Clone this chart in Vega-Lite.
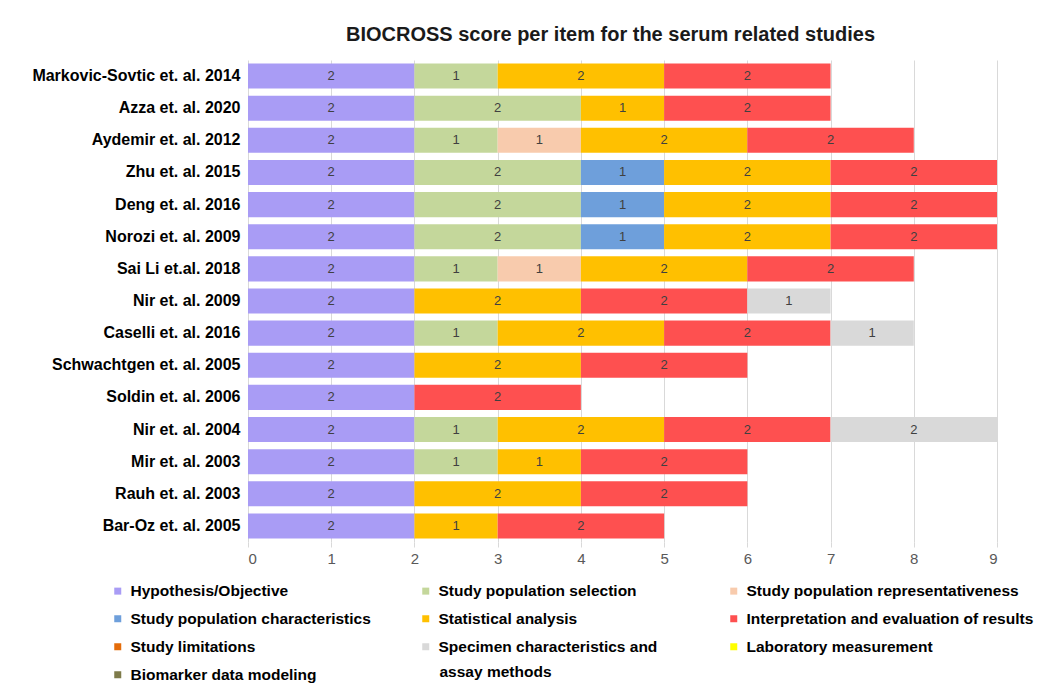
{
  "$schema": "https://vega.github.io/schema/vega-lite/v6.json",
  "width": 749,
  "height": 482,
  "autosize": "none",
  "padding": {"left": 248, "top": 60, "right": 54, "bottom": 146},
  "background": "white",
  "config": {"view": {"stroke": null}, "font": "Liberation Sans"},
  "title": {
    "text": "BIOCROSS score per item for the serum related studies",
    "fontSize": 20,
    "font": "Liberation Sans",
    "fontWeight": "bold",
    "color": "#1a1a1a",
    "offset": 15,
    "anchor": "middle",
    "dx": -12
  },
  "data": {
    "values": [
      {"study": "Markovic-Sovtic et. al. 2014", "item": "Hypothesis/Objective", "k": 1, "score": 2},
      {"study": "Markovic-Sovtic et. al. 2014", "item": "Study population selection", "k": 2, "score": 1},
      {"study": "Markovic-Sovtic et. al. 2014", "item": "Statistical analysis", "k": 5, "score": 2},
      {"study": "Markovic-Sovtic et. al. 2014", "item": "Interpretation and evaluation of results", "k": 6, "score": 2},
      {"study": "Azza et. al. 2020", "item": "Hypothesis/Objective", "k": 1, "score": 2},
      {"study": "Azza et. al. 2020", "item": "Study population selection", "k": 2, "score": 2},
      {"study": "Azza et. al. 2020", "item": "Statistical analysis", "k": 5, "score": 1},
      {"study": "Azza et. al. 2020", "item": "Interpretation and evaluation of results", "k": 6, "score": 2},
      {"study": "Aydemir et. al. 2012", "item": "Hypothesis/Objective", "k": 1, "score": 2},
      {"study": "Aydemir et. al. 2012", "item": "Study population selection", "k": 2, "score": 1},
      {"study": "Aydemir et. al. 2012", "item": "Study population representativeness", "k": 3, "score": 1},
      {"study": "Aydemir et. al. 2012", "item": "Statistical analysis", "k": 5, "score": 2},
      {"study": "Aydemir et. al. 2012", "item": "Interpretation and evaluation of results", "k": 6, "score": 2},
      {"study": "Zhu et. al. 2015", "item": "Hypothesis/Objective", "k": 1, "score": 2},
      {"study": "Zhu et. al. 2015", "item": "Study population selection", "k": 2, "score": 2},
      {"study": "Zhu et. al. 2015", "item": "Study population characteristics", "k": 4, "score": 1},
      {"study": "Zhu et. al. 2015", "item": "Statistical analysis", "k": 5, "score": 2},
      {"study": "Zhu et. al. 2015", "item": "Interpretation and evaluation of results", "k": 6, "score": 2},
      {"study": "Deng et. al. 2016", "item": "Hypothesis/Objective", "k": 1, "score": 2},
      {"study": "Deng et. al. 2016", "item": "Study population selection", "k": 2, "score": 2},
      {"study": "Deng et. al. 2016", "item": "Study population characteristics", "k": 4, "score": 1},
      {"study": "Deng et. al. 2016", "item": "Statistical analysis", "k": 5, "score": 2},
      {"study": "Deng et. al. 2016", "item": "Interpretation and evaluation of results", "k": 6, "score": 2},
      {"study": "Norozi et. al. 2009", "item": "Hypothesis/Objective", "k": 1, "score": 2},
      {"study": "Norozi et. al. 2009", "item": "Study population selection", "k": 2, "score": 2},
      {"study": "Norozi et. al. 2009", "item": "Study population characteristics", "k": 4, "score": 1},
      {"study": "Norozi et. al. 2009", "item": "Statistical analysis", "k": 5, "score": 2},
      {"study": "Norozi et. al. 2009", "item": "Interpretation and evaluation of results", "k": 6, "score": 2},
      {"study": "Sai Li et.al. 2018", "item": "Hypothesis/Objective", "k": 1, "score": 2},
      {"study": "Sai Li et.al. 2018", "item": "Study population selection", "k": 2, "score": 1},
      {"study": "Sai Li et.al. 2018", "item": "Study population representativeness", "k": 3, "score": 1},
      {"study": "Sai Li et.al. 2018", "item": "Statistical analysis", "k": 5, "score": 2},
      {"study": "Sai Li et.al. 2018", "item": "Interpretation and evaluation of results", "k": 6, "score": 2},
      {"study": "Nir et. al. 2009", "item": "Hypothesis/Objective", "k": 1, "score": 2},
      {"study": "Nir et. al. 2009", "item": "Statistical analysis", "k": 5, "score": 2},
      {"study": "Nir et. al. 2009", "item": "Interpretation and evaluation of results", "k": 6, "score": 2},
      {"study": "Nir et. al. 2009", "item": "Specimen characteristics and assay methods", "k": 8, "score": 1},
      {"study": "Caselli et. al. 2016", "item": "Hypothesis/Objective", "k": 1, "score": 2},
      {"study": "Caselli et. al. 2016", "item": "Study population selection", "k": 2, "score": 1},
      {"study": "Caselli et. al. 2016", "item": "Statistical analysis", "k": 5, "score": 2},
      {"study": "Caselli et. al. 2016", "item": "Interpretation and evaluation of results", "k": 6, "score": 2},
      {"study": "Caselli et. al. 2016", "item": "Specimen characteristics and assay methods", "k": 8, "score": 1},
      {"study": "Schwachtgen et. al. 2005", "item": "Hypothesis/Objective", "k": 1, "score": 2},
      {"study": "Schwachtgen et. al. 2005", "item": "Statistical analysis", "k": 5, "score": 2},
      {"study": "Schwachtgen et. al. 2005", "item": "Interpretation and evaluation of results", "k": 6, "score": 2},
      {"study": "Soldin et. al. 2006", "item": "Hypothesis/Objective", "k": 1, "score": 2},
      {"study": "Soldin et. al. 2006", "item": "Interpretation and evaluation of results", "k": 6, "score": 2},
      {"study": "Nir et. al. 2004", "item": "Hypothesis/Objective", "k": 1, "score": 2},
      {"study": "Nir et. al. 2004", "item": "Study population selection", "k": 2, "score": 1},
      {"study": "Nir et. al. 2004", "item": "Statistical analysis", "k": 5, "score": 2},
      {"study": "Nir et. al. 2004", "item": "Interpretation and evaluation of results", "k": 6, "score": 2},
      {"study": "Nir et. al. 2004", "item": "Specimen characteristics and assay methods", "k": 8, "score": 2},
      {"study": "Mir et. al. 2003", "item": "Hypothesis/Objective", "k": 1, "score": 2},
      {"study": "Mir et. al. 2003", "item": "Study population selection", "k": 2, "score": 1},
      {"study": "Mir et. al. 2003", "item": "Statistical analysis", "k": 5, "score": 1},
      {"study": "Mir et. al. 2003", "item": "Interpretation and evaluation of results", "k": 6, "score": 2},
      {"study": "Rauh  et. al. 2003", "item": "Hypothesis/Objective", "k": 1, "score": 2},
      {"study": "Rauh  et. al. 2003", "item": "Statistical analysis", "k": 5, "score": 2},
      {"study": "Rauh  et. al. 2003", "item": "Interpretation and evaluation of results", "k": 6, "score": 2},
      {"study": "Bar-Oz et. al. 2005", "item": "Hypothesis/Objective", "k": 1, "score": 2},
      {"study": "Bar-Oz et. al. 2005", "item": "Statistical analysis", "k": 5, "score": 1},
      {"study": "Bar-Oz et. al. 2005", "item": "Interpretation and evaluation of results", "k": 6, "score": 2}
    ]
  },
  "transform": [
    {"stack": "score", "groupby": ["study"], "sort": [{"field": "k"}], "as": ["s0", "s1"]},
    {"calculate": "(datum.s0 + datum.s1) / 2", "as": "mid"}
  ],
  "encoding": {
    "y": {
      "field": "study",
      "type": "nominal",
      "sort": ["Markovic-Sovtic et. al. 2014", "Azza et. al. 2020", "Aydemir et. al. 2012", "Zhu et. al. 2015", "Deng et. al. 2016", "Norozi et. al. 2009", "Sai Li et.al. 2018", "Nir et. al. 2009", "Caselli et. al. 2016", "Schwachtgen et. al. 2005", "Soldin et. al. 2006", "Nir et. al. 2004", "Mir et. al. 2003", "Rauh  et. al. 2003", "Bar-Oz et. al. 2005"],
      "scale": {"paddingInner": 0.22, "paddingOuter": 0.11},
      "axis": {
        "title": null,
        "domain": false,
        "ticks": false,
        "labelFont": "Liberation Sans",
        "labelFontSize": 16,
        "labelFontWeight": "bold",
        "labelColor": "#000000",
        "labelPadding": 8,
        "labelLimit": 400
      }
    }
  },
  "layer": [
    {
      "mark": {"type": "bar"},
      "encoding": {
        "x": {
          "field": "s0",
          "type": "quantitative",
          "scale": {"domain": [0, 9], "nice": false},
          "axis": {
            "title": null,
            "values": [0, 1, 2, 3, 4, 5, 6, 7, 8, 9],
            "format": "d",
            "grid": true,
            "gridColor": "#d9d9d9",
            "domain": false,
            "tickColor": "#d9d9d9",
            "tickSize": 5,
            "labelPadding": 4,
            "labelFont": "Liberation Sans",
            "labelFontSize": 15,
            "labelColor": "#595959"
          }
        },
        "x2": {"field": "s1"},
        "color": {
          "field": "item",
          "type": "nominal",
          "scale": {
            "domain": ["Hypothesis/Objective", "Study population selection", "Study population representativeness", "Study population characteristics", "Statistical analysis", "Interpretation and evaluation of results", "Study limitations", "Specimen characteristics and assay methods", "Laboratory measurement", "Biomarker data modeling"],
            "range": ["#a99cf5", "#c4d79b", "#f8cbad", "#6e9fdb", "#ffc000", "#fe5050", "#e46c0a", "#d9d9d9", "#ffff00", "#7e7b4a"]
          },
          "legend": {
            "title": null,
            "orient": "none",
            "direction": "horizontal",
            "legendX": -138,
            "legendY": 523,
            "columns": 3,
            "gridAlign": "all",
            "columnPadding": 0,
            "rowPadding": 11,
            "symbolType": "square",
            "symbolSize": 49,
            "symbolStrokeWidth": 0,
            "labelFont": "Liberation Sans",
            "labelFontSize": 15.5,
            "labelFontWeight": "bold",
            "labelColor": "#000000",
            "labelOffset": 5,
            "labelLimit": 400,
            "labelExpr": "datum.label == 'Specimen characteristics and assay methods' ? 'Specimen characteristics and' : datum.label"
          }
        },
        "opacity": {
          "datum": "assay methods",
          "type": "nominal",
          "scale": {"range": [1]},
          "legend": {
            "title": null,
            "orient": "none",
            "legendX": 176,
            "legendY": 604,
            "symbolSize": 0,
            "symbolOpacity": 0,
            "symbolStrokeWidth": 0,
            "labelOffset": 0,
            "labelFont": "Liberation Sans",
            "labelFontSize": 15.5,
            "labelFontWeight": "bold",
            "labelColor": "#000000",
            "labelLimit": 400
          }
        }
      }
    },
    {
      "mark": {"type": "text", "font": "Liberation Sans", "fontSize": 13, "color": "#404040"},
      "encoding": {
        "x": {"field": "mid", "type": "quantitative"},
        "text": {"field": "score", "type": "quantitative"}
      }
    }
  ]
}
